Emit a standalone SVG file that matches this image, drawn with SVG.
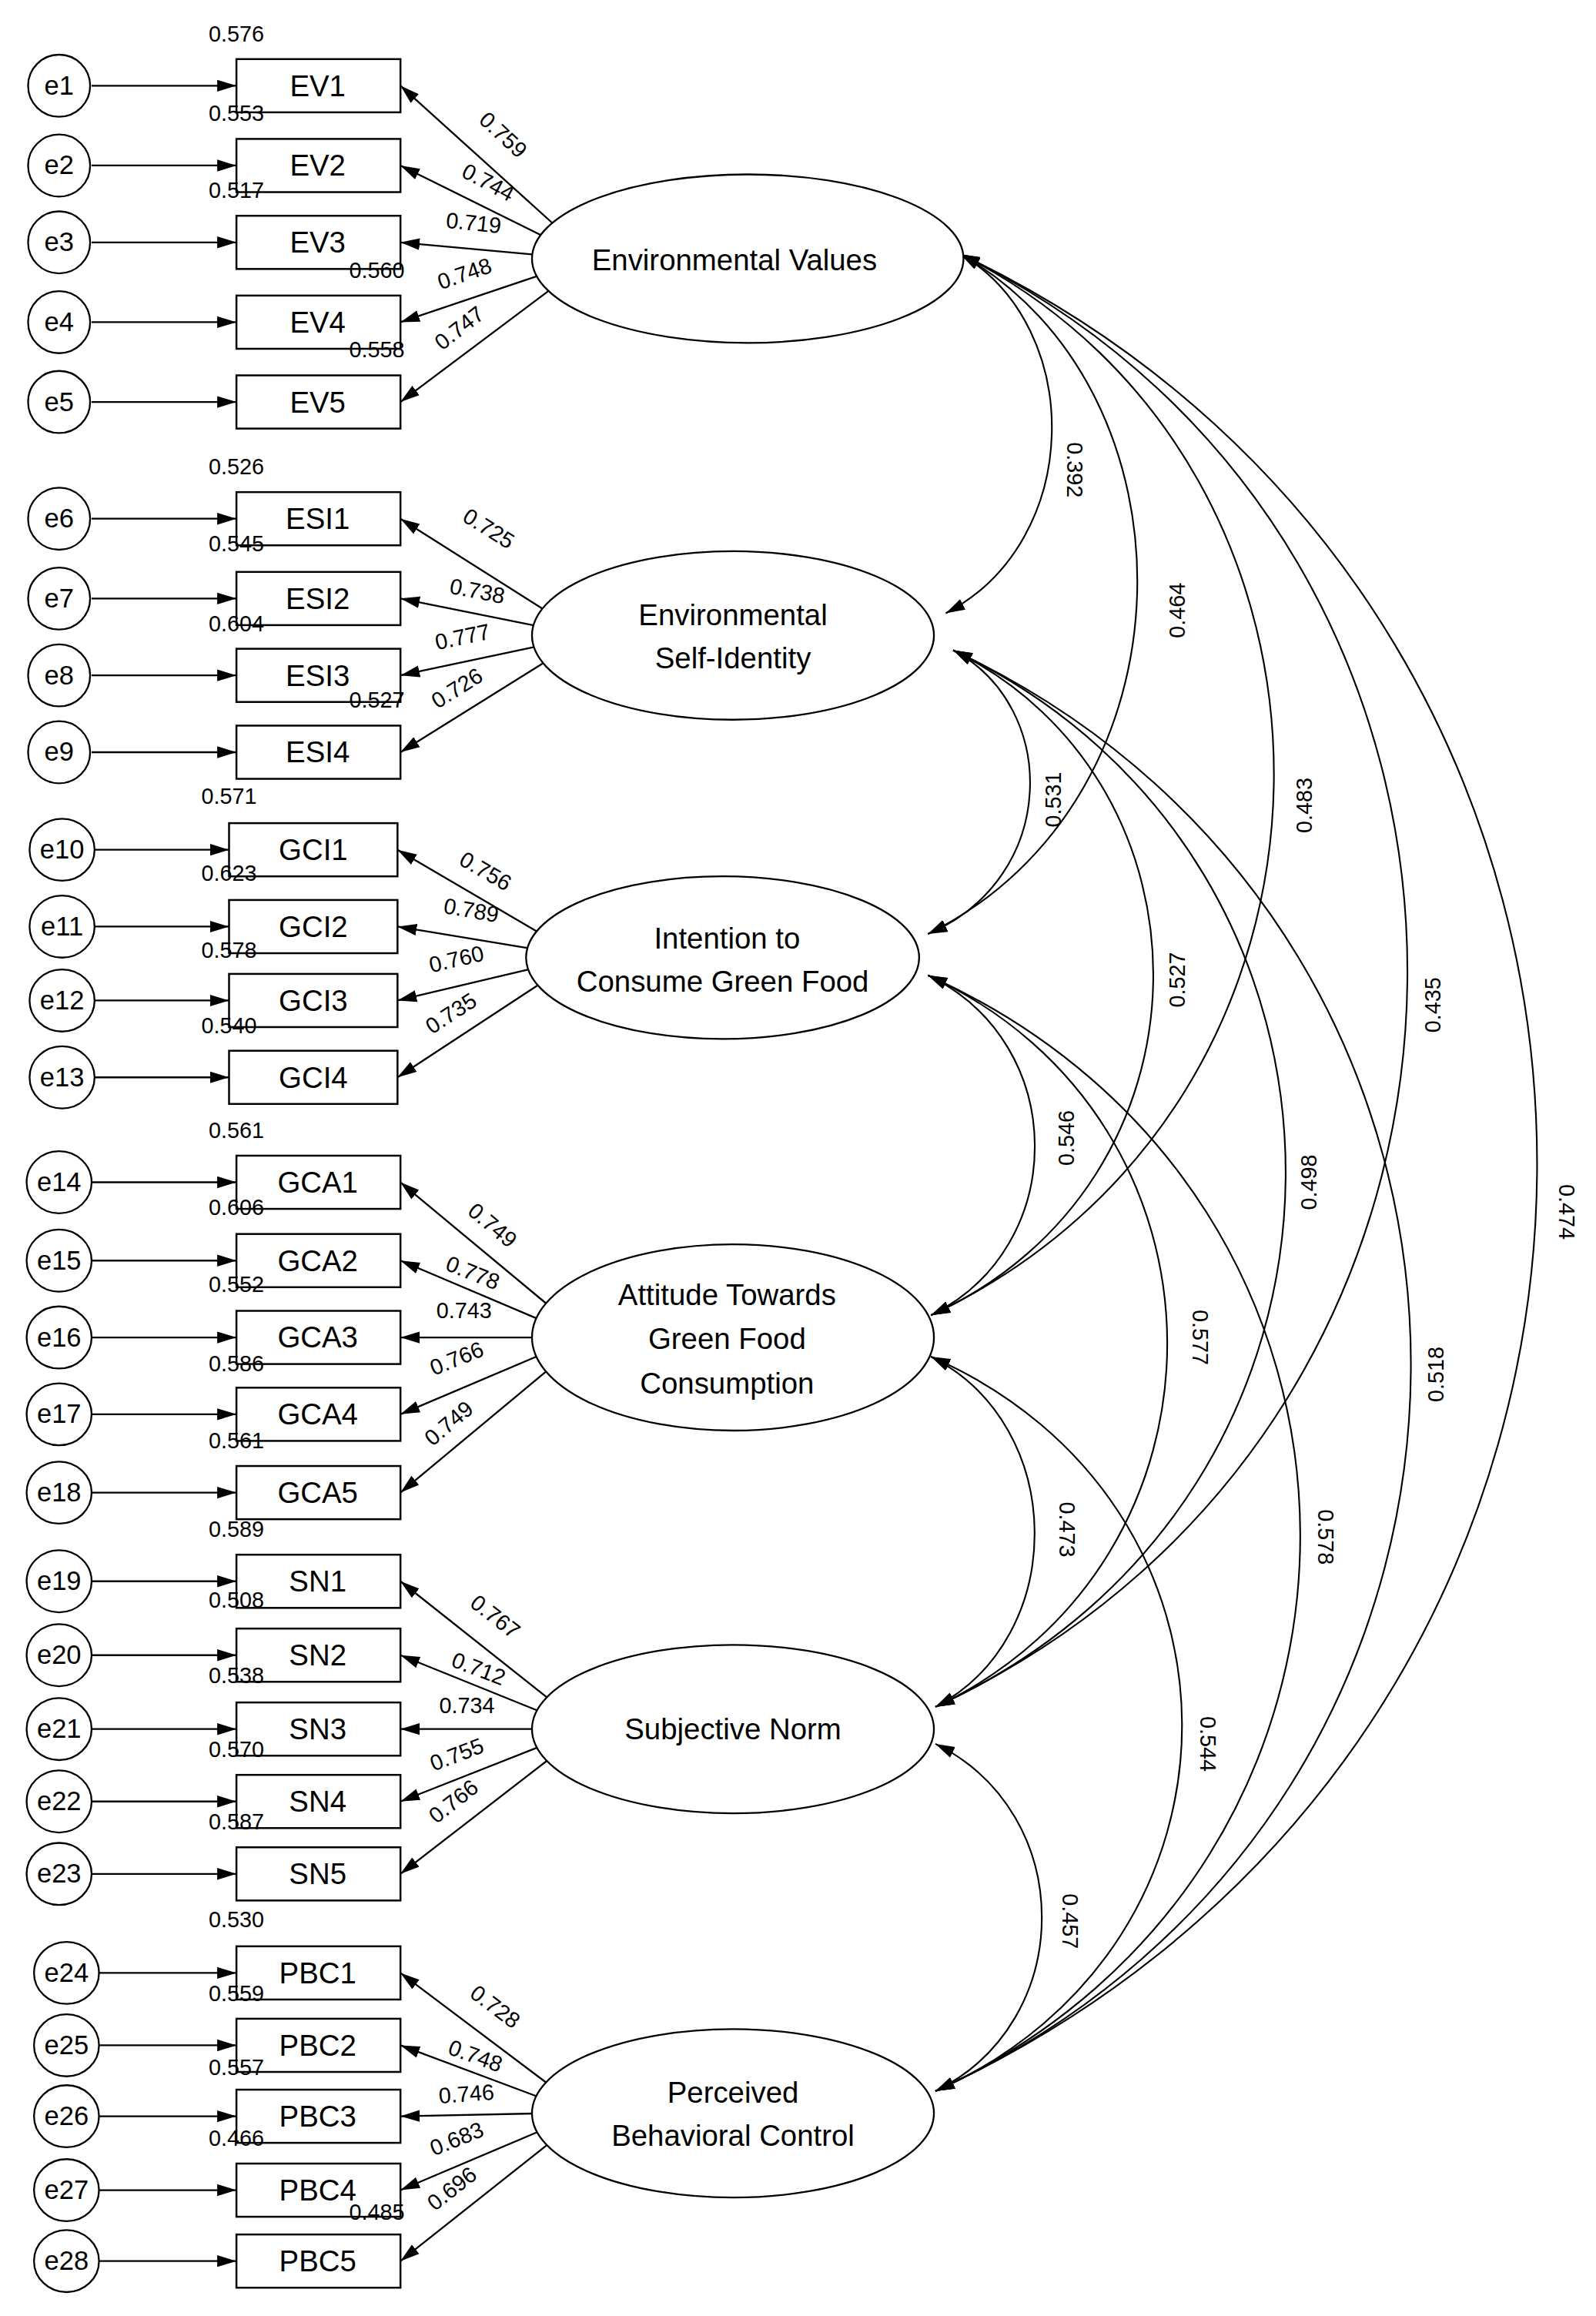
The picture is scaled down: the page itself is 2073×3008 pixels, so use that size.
<svg xmlns="http://www.w3.org/2000/svg" width="2073" height="3008" viewBox="0 0 2073 3008">
<style>
.bx{fill:#fff;stroke:#000;stroke-width:1.3}
.el{fill:#fff;stroke:#000;stroke-width:1.2}
.ln{stroke:#000;stroke-width:1.2;fill:none;marker-end:url(#ah)}
.arc{stroke:#000;stroke-width:1.1;fill:none;marker-start:url(#ah);marker-end:url(#ah)}
.t{font-family:"Liberation Sans",Arial,sans-serif;font-size:20px;text-anchor:middle;fill:#000}
.te{font-family:"Liberation Sans",Arial,sans-serif;font-size:18px;text-anchor:middle;fill:#000}
.n{font-family:"Liberation Sans",Arial,sans-serif;font-size:15px;text-anchor:middle;fill:#000}
</style>
<defs>
<marker id="ah" markerUnits="userSpaceOnUse" markerWidth="14" markerHeight="10" refX="13" refY="4" orient="auto-start-reverse" viewBox="0 0 14 8"><path d="M0,0 L13,4 L0,8 z" fill="#000"/></marker>
</defs>
<rect width="2073" height="3008" fill="#fff"/>
<g transform="scale(1.9194)">
<g id="connectors">
<path class="ln" d="M62,58H160"/><path class="ln" d="M62,112H160"/><path class="ln" d="M62,164H160"/><path class="ln" d="M62,218H160"/><path class="ln" d="M62,272H160"/>
<path class="ln" d="M62,351H160"/><path class="ln" d="M62,405H160"/><path class="ln" d="M62,457H160"/><path class="ln" d="M62,509H160"/>
<path class="ln" d="M64,575H155"/><path class="ln" d="M64,627H155"/><path class="ln" d="M64,677H155"/><path class="ln" d="M64,729H155"/>
<path class="ln" d="M62,800H160"/><path class="ln" d="M62,853H160"/><path class="ln" d="M62,905H160"/><path class="ln" d="M62,957H160"/><path class="ln" d="M62,1010H160"/>
<path class="ln" d="M62,1070H160"/><path class="ln" d="M62,1120H160"/><path class="ln" d="M62,1170H160"/><path class="ln" d="M62,1219H160"/><path class="ln" d="M62,1268H160"/>
<path class="ln" d="M67,1335H160"/><path class="ln" d="M67,1384H160"/><path class="ln" d="M67,1432H160"/><path class="ln" d="M67,1482H160"/><path class="ln" d="M67,1530H160"/>
<path class="ln" d="M375,152L271,58"/><path class="ln" d="M372,162L271,112"/><path class="ln" d="M370,173L271,164"/><path class="ln" d="M372,184L271,218"/><path class="ln" d="M375,194L271,272"/>
<path class="ln" d="M372,415L271,351"/><path class="ln" d="M370,425L271,405"/><path class="ln" d="M370,436L271,457"/><path class="ln" d="M372,446L271,509"/>
<path class="ln" d="M368,633L269,575"/><path class="ln" d="M366,643L269,627"/><path class="ln" d="M366,654L269,677"/><path class="ln" d="M368,664L269,729"/>
<path class="ln" d="M372,884L271,800"/><path class="ln" d="M370,895L271,853"/><path class="ln" d="M368,905L271,905"/><path class="ln" d="M370,915L271,957"/><path class="ln" d="M372,926L271,1010"/>
<path class="ln" d="M372,1150L271,1070"/><path class="ln" d="M370,1160L271,1120"/><path class="ln" d="M368,1170L271,1170"/><path class="ln" d="M370,1180L271,1219"/><path class="ln" d="M372,1190L271,1268"/>
<path class="ln" d="M372,1411L271,1335"/><path class="ln" d="M370,1421L271,1384"/><path class="ln" d="M368,1430L271,1432"/><path class="ln" d="M370,1440L271,1482"/><path class="ln" d="M372,1450L271,1530"/>
<path class="arc" d="M650,172C734,221 734,366 640,415"/>
<path class="arc" d="M650,172C813,264 813,540 628,632"/>
<path class="arc" d="M650,172C936,316 936,746 630,890"/>
<path class="arc" d="M650,172C1056,369 1056,958 633,1155"/>
<path class="arc" d="M650,172C1173,421 1173,1166 633,1415"/>
<path class="arc" d="M645,440C717,478 717,594 628,632"/>
<path class="arc" d="M645,440C828,530 828,800 630,890"/>
<path class="arc" d="M645,440C947,583 947,1012 633,1155"/>
<path class="arc" d="M645,440C1060,635 1060,1220 633,1415"/>
<path class="arc" d="M628,660C724,706 724,844 630,890"/>
<path class="arc" d="M628,660C843,759 843,1056 633,1155"/>
<path class="arc" d="M628,660C963,811 963,1264 633,1415"/>
<path class="arc" d="M630,918C723,965 723,1108 633,1155"/>
<path class="arc" d="M630,918C856,1017 856,1316 633,1415"/>
<path class="arc" d="M633,1180C729,1227 729,1368 633,1415"/>
</g>
<g id="cov-labels" class="n">
<text transform="translate(722,318) rotate(90)">0.392</text>
<text transform="translate(802,413) rotate(-90)">0.464</text>
<text transform="translate(888,545) rotate(-90)">0.483</text>
<text transform="translate(975,680) rotate(-90)">0.435</text>
<text transform="translate(1055,820) rotate(90)">0.474</text>
<text transform="translate(718,541) rotate(-90)">0.531</text>
<text transform="translate(802,663) rotate(-90)">0.527</text>
<text transform="translate(891,800) rotate(-90)">0.498</text>
<text transform="translate(977,930) rotate(-90)">0.518</text>
<text transform="translate(727,770) rotate(-90)">0.546</text>
<text transform="translate(807,905) rotate(90)">0.577</text>
<text transform="translate(892,1040) rotate(90)">0.578</text>
<text transform="translate(717,1035) rotate(90)">0.473</text>
<text transform="translate(812,1180) rotate(90)">0.544</text>
<text transform="translate(719,1300) rotate(90)">0.457</text>
</g>
<g id="load-labels" class="n">
<text transform="translate(337,95) rotate(43)">0.759</text>
<text transform="translate(328,128) rotate(28)">0.744</text>
<text transform="translate(320,156) rotate(6)">0.719</text>
<text transform="translate(316,190) rotate(-19)">0.748</text>
<text transform="translate(314,226) rotate(-38)">0.747</text>
<text transform="translate(328,362) rotate(32)">0.725</text>
<text transform="translate(322,405) rotate(11)">0.738</text>
<text transform="translate(314,436) rotate(-12)">0.777</text>
<text transform="translate(312,470) rotate(-32)">0.726</text>
<text transform="translate(326,594) rotate(30)">0.756</text>
<text transform="translate(318,621) rotate(10)">0.789</text>
<text transform="translate(310,654) rotate(-13)">0.760</text>
<text transform="translate(308,690) rotate(-33)">0.735</text>
<text transform="translate(330,833) rotate(40)">0.749</text>
<text transform="translate(318,866) rotate(22)">0.778</text>
<text transform="translate(314,892) rotate(0)">0.743</text>
<text transform="translate(311,924) rotate(-22)">0.766</text>
<text transform="translate(307,967) rotate(-40)">0.749</text>
<text transform="translate(332,1098) rotate(38)">0.767</text>
<text transform="translate(322,1134) rotate(21)">0.712</text>
<text transform="translate(316,1159) rotate(0)">0.734</text>
<text transform="translate(311,1192) rotate(-21)">0.755</text>
<text transform="translate(310,1223) rotate(-38)">0.766</text>
<text transform="translate(332,1362) rotate(37)">0.728</text>
<text transform="translate(320,1396) rotate(20)">0.748</text>
<text transform="translate(316,1422) rotate(-4)">0.746</text>
<text transform="translate(311,1452) rotate(-22)">0.683</text>
<text transform="translate(309,1485) rotate(-38)">0.696</text>
</g>
<g id="EV"><ellipse class="el" cx="506" cy="175" rx="146" ry="57"/><text class="t" x="497" y="183">Environmental Values</text></g>
<g id="ESI"><ellipse class="el" cx="496" cy="430" rx="136" ry="57"/><text class="t" x="496" y="423">Environmental</text><text class="t" x="496" y="452">Self-Identity</text></g>
<g id="GCI"><ellipse class="el" cx="489" cy="648" rx="133" ry="55"/><text class="t" x="492" y="642">Intention to</text><text class="t" x="489" y="671">Consume Green Food</text></g>
<g id="GCA"><ellipse class="el" cx="496" cy="905" rx="136" ry="63"/><text class="t" x="492" y="883">Attitude Towards</text><text class="t" x="492" y="913">Green Food</text><text class="t" x="492" y="943">Consumption</text></g>
<g id="SN"><ellipse class="el" cx="496" cy="1170" rx="136" ry="57"/><text class="t" x="496" y="1177">Subjective Norm</text></g>
<g id="PBC"><ellipse class="el" cx="496" cy="1430" rx="136" ry="57"/><text class="t" x="496" y="1423">Perceived</text><text class="t" x="496" y="1452">Behavioral Control</text></g>
<g id="indicators">
<g id="EV1"><rect class="bx" x="160" y="40" width="111" height="36"/><text class="t" x="215" y="65">EV1</text></g>
<g id="EV2"><rect class="bx" x="160" y="94" width="111" height="36"/><text class="t" x="215" y="119">EV2</text></g>
<g id="EV3"><rect class="bx" x="160" y="146" width="111" height="36"/><text class="t" x="215" y="171">EV3</text></g>
<g id="EV4"><rect class="bx" x="160" y="200" width="111" height="36"/><text class="t" x="215" y="225">EV4</text></g>
<g id="EV5"><rect class="bx" x="160" y="254" width="111" height="36"/><text class="t" x="215" y="279">EV5</text></g>
<g id="ESI1"><rect class="bx" x="160" y="333" width="111" height="36"/><text class="t" x="215" y="358">ESI1</text></g>
<g id="ESI2"><rect class="bx" x="160" y="387" width="111" height="36"/><text class="t" x="215" y="412">ESI2</text></g>
<g id="ESI3"><rect class="bx" x="160" y="439" width="111" height="36"/><text class="t" x="215" y="464">ESI3</text></g>
<g id="ESI4"><rect class="bx" x="160" y="491" width="111" height="36"/><text class="t" x="215" y="516">ESI4</text></g>
<g id="GCI1"><rect class="bx" x="155" y="557" width="114" height="36"/><text class="t" x="212" y="582">GCI1</text></g>
<g id="GCI2"><rect class="bx" x="155" y="609" width="114" height="36"/><text class="t" x="212" y="634">GCI2</text></g>
<g id="GCI3"><rect class="bx" x="155" y="659" width="114" height="36"/><text class="t" x="212" y="684">GCI3</text></g>
<g id="GCI4"><rect class="bx" x="155" y="711" width="114" height="36"/><text class="t" x="212" y="736">GCI4</text></g>
<g id="GCA1"><rect class="bx" x="160" y="782" width="111" height="36"/><text class="t" x="215" y="807">GCA1</text></g>
<g id="GCA2"><rect class="bx" x="160" y="835" width="111" height="36"/><text class="t" x="215" y="860">GCA2</text></g>
<g id="GCA3"><rect class="bx" x="160" y="887" width="111" height="36"/><text class="t" x="215" y="912">GCA3</text></g>
<g id="GCA4"><rect class="bx" x="160" y="939" width="111" height="36"/><text class="t" x="215" y="964">GCA4</text></g>
<g id="GCA5"><rect class="bx" x="160" y="992" width="111" height="36"/><text class="t" x="215" y="1017">GCA5</text></g>
<g id="SN1"><rect class="bx" x="160" y="1052" width="111" height="36"/><text class="t" x="215" y="1077">SN1</text></g>
<g id="SN2"><rect class="bx" x="160" y="1102" width="111" height="36"/><text class="t" x="215" y="1127">SN2</text></g>
<g id="SN3"><rect class="bx" x="160" y="1152" width="111" height="36"/><text class="t" x="215" y="1177">SN3</text></g>
<g id="SN4"><rect class="bx" x="160" y="1201" width="111" height="36"/><text class="t" x="215" y="1226">SN4</text></g>
<g id="SN5"><rect class="bx" x="160" y="1250" width="111" height="36"/><text class="t" x="215" y="1275">SN5</text></g>
<g id="PBC1"><rect class="bx" x="160" y="1317" width="111" height="36"/><text class="t" x="215" y="1342">PBC1</text></g>
<g id="PBC2"><rect class="bx" x="160" y="1366" width="111" height="36"/><text class="t" x="215" y="1391">PBC2</text></g>
<g id="PBC3"><rect class="bx" x="160" y="1414" width="111" height="36"/><text class="t" x="215" y="1439">PBC3</text></g>
<g id="PBC4"><rect class="bx" x="160" y="1464" width="111" height="36"/><text class="t" x="215" y="1489">PBC4</text></g>
<g id="PBC5"><rect class="bx" x="160" y="1512" width="111" height="36"/><text class="t" x="215" y="1537">PBC5</text></g>
</g>
<g id="r2" class="n">
<text x="160" y="28">0.576</text><text x="160" y="82">0.553</text><text x="160" y="134">0.517</text><text x="255" y="188">0.560</text><text x="255" y="242">0.558</text>
<text x="160" y="321">0.526</text><text x="160" y="373">0.545</text><text x="160" y="427">0.604</text><text x="255" y="479">0.527</text>
<text x="155" y="544">0.571</text><text x="155" y="596">0.623</text><text x="155" y="648">0.578</text><text x="155" y="699">0.540</text>
<text x="160" y="770">0.561</text><text x="160" y="822">0.606</text><text x="160" y="874">0.552</text><text x="160" y="928">0.586</text><text x="160" y="980">0.561</text>
<text x="160" y="1040">0.589</text><text x="160" y="1088">0.508</text><text x="160" y="1139">0.538</text><text x="160" y="1189">0.570</text><text x="160" y="1238">0.587</text>
<text x="160" y="1304">0.530</text><text x="160" y="1354">0.559</text><text x="160" y="1404">0.557</text><text x="160" y="1452">0.466</text><text x="255" y="1502">0.485</text>
</g>
<g id="errors">
<g id="e1"><ellipse class="el" cx="40" cy="58" rx="21" ry="21"/><text class="te" x="40" y="64">e1</text></g>
<g id="e2"><ellipse class="el" cx="40" cy="112" rx="21" ry="21"/><text class="te" x="40" y="118">e2</text></g>
<g id="e3"><ellipse class="el" cx="40" cy="164" rx="21" ry="21"/><text class="te" x="40" y="170">e3</text></g>
<g id="e4"><ellipse class="el" cx="40" cy="218" rx="21" ry="21"/><text class="te" x="40" y="224">e4</text></g>
<g id="e5"><ellipse class="el" cx="40" cy="272" rx="21" ry="21"/><text class="te" x="40" y="278">e5</text></g>
<g id="e6"><ellipse class="el" cx="40" cy="351" rx="21" ry="21"/><text class="te" x="40" y="357">e6</text></g>
<g id="e7"><ellipse class="el" cx="40" cy="405" rx="21" ry="21"/><text class="te" x="40" y="411">e7</text></g>
<g id="e8"><ellipse class="el" cx="40" cy="457" rx="21" ry="21"/><text class="te" x="40" y="463">e8</text></g>
<g id="e9"><ellipse class="el" cx="40" cy="509" rx="21" ry="21"/><text class="te" x="40" y="515">e9</text></g>
<g id="e10"><ellipse class="el" cx="42" cy="575" rx="22" ry="21"/><text class="te" x="42" y="581">e10</text></g>
<g id="e11"><ellipse class="el" cx="42" cy="627" rx="22" ry="21"/><text class="te" x="42" y="633">e11</text></g>
<g id="e12"><ellipse class="el" cx="42" cy="677" rx="22" ry="21"/><text class="te" x="42" y="683">e12</text></g>
<g id="e13"><ellipse class="el" cx="42" cy="729" rx="22" ry="21"/><text class="te" x="42" y="735">e13</text></g>
<g id="e14"><ellipse class="el" cx="40" cy="800" rx="22" ry="21"/><text class="te" x="40" y="806">e14</text></g>
<g id="e15"><ellipse class="el" cx="40" cy="853" rx="22" ry="21"/><text class="te" x="40" y="859">e15</text></g>
<g id="e16"><ellipse class="el" cx="40" cy="905" rx="22" ry="21"/><text class="te" x="40" y="911">e16</text></g>
<g id="e17"><ellipse class="el" cx="40" cy="957" rx="22" ry="21"/><text class="te" x="40" y="963">e17</text></g>
<g id="e18"><ellipse class="el" cx="40" cy="1010" rx="22" ry="21"/><text class="te" x="40" y="1016">e18</text></g>
<g id="e19"><ellipse class="el" cx="40" cy="1070" rx="22" ry="21"/><text class="te" x="40" y="1076">e19</text></g>
<g id="e20"><ellipse class="el" cx="40" cy="1120" rx="22" ry="21"/><text class="te" x="40" y="1126">e20</text></g>
<g id="e21"><ellipse class="el" cx="40" cy="1170" rx="22" ry="21"/><text class="te" x="40" y="1176">e21</text></g>
<g id="e22"><ellipse class="el" cx="40" cy="1219" rx="22" ry="21"/><text class="te" x="40" y="1225">e22</text></g>
<g id="e23"><ellipse class="el" cx="40" cy="1268" rx="22" ry="21"/><text class="te" x="40" y="1274">e23</text></g>
<g id="e24"><ellipse class="el" cx="45" cy="1335" rx="22" ry="21"/><text class="te" x="45" y="1341">e24</text></g>
<g id="e25"><ellipse class="el" cx="45" cy="1384" rx="22" ry="21"/><text class="te" x="45" y="1390">e25</text></g>
<g id="e26"><ellipse class="el" cx="45" cy="1432" rx="22" ry="21"/><text class="te" x="45" y="1438">e26</text></g>
<g id="e27"><ellipse class="el" cx="45" cy="1482" rx="22" ry="21"/><text class="te" x="45" y="1488">e27</text></g>
<g id="e28"><ellipse class="el" cx="45" cy="1530" rx="22" ry="21"/><text class="te" x="45" y="1536">e28</text></g>
</g>
</g>
</svg>
